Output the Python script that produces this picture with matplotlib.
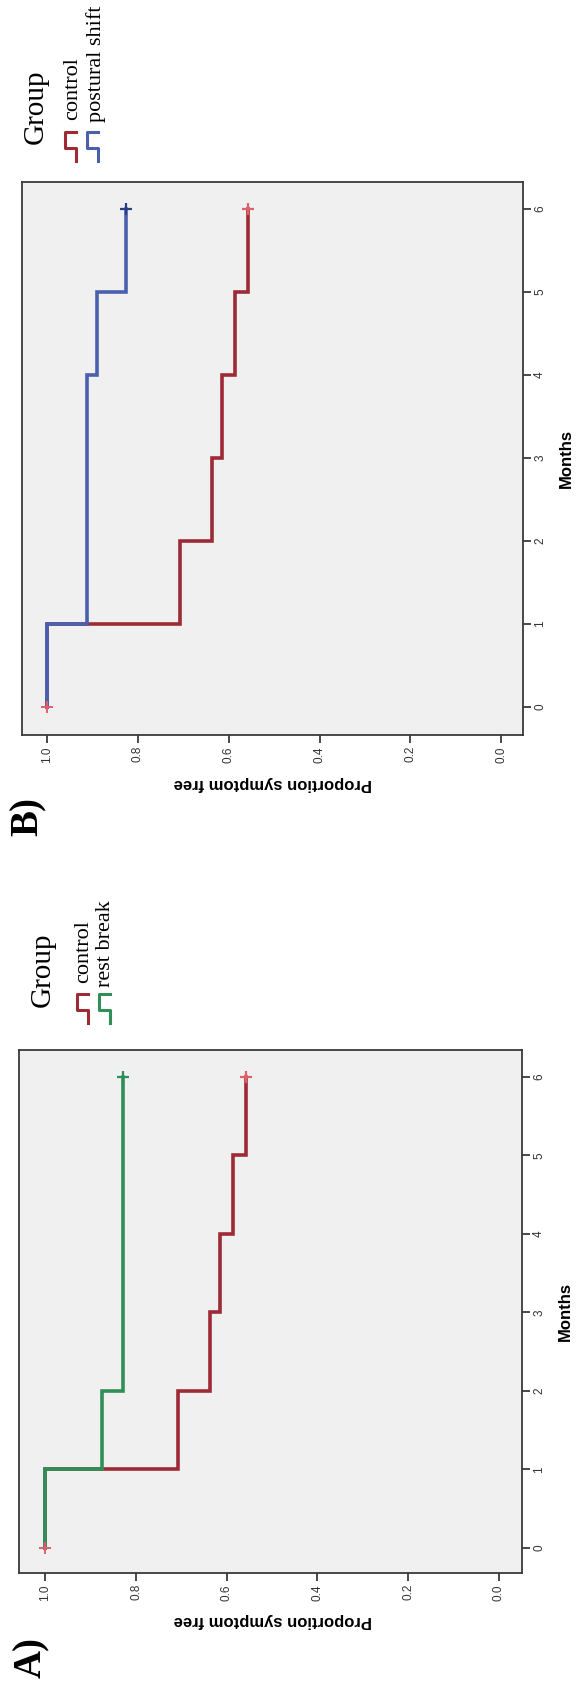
import numpy as np
import matplotlib
matplotlib.use("Agg")
import matplotlib.pyplot as plt
from matplotlib.lines import Line2D

# Kaplan-Meier curves, figure turned a quarter turn (months run upward)
months = [0, 1, 2, 3, 4, 5, 6]
prop_ticks = [0.0, 0.2, 0.4, 0.6, 0.8, 1.0]
prop_labels = ["0.0", "0.2", "0.4", "0.6", "0.8", "1.0"]

# proportion symptom free during each month interval [t, t+1)
control = [1.0, 0.707, 0.636, 0.615, 0.587, 0.557]
rest_break = [1.0, 0.874, 0.829, 0.829, 0.829, 0.829]
postural_shift = [1.0, 0.912, 0.912, 0.912, 0.890, 0.825]

RED = "#9e2a35"
RED_LIGHT = "#e0606a"
GREEN = "#2f8f57"
BLUE = "#4a60ae"
BLUE_DARK = "#2c3f86"

W, H = 580, 1692
plt.rcParams["font.family"] = ["Liberation Sans", "DejaVu Sans"]

fig = plt.figure(figsize=(W / 100, H / 100), dpi=100)


def box(left, top, right, bottom):
    return [left / W, 1 - bottom / H, (right - left) / W, (bottom - top) / H]


def fp(x, y):
    return x / W, 1 - y / H


def km_path(vals):
    ys = np.repeat(months, 2)[1:-1]
    xs = np.repeat(vals, 2)
    return xs, ys


def km_panel(rect, xlim, ylim, other, other_col, other_cens):
    ax = fig.add_axes(rect)
    ax.set_facecolor("#f0f0f0")
    for s in ax.spines.values():
        s.set_color("#3a3a3a")
        s.set_linewidth(1.3)

    xs, ys = km_path(control)
    ax.plot(xs, ys, color=RED, lw=2.6, solid_joinstyle="miter")
    xs, ys = km_path(other)
    ax.plot(xs, ys, color=other_col, lw=2.6, solid_joinstyle="miter")

    # censor marks
    ax.plot([control[0]], [months[0]], "+", color=RED_LIGHT, ms=8, mew=1.4)
    ax.plot([control[-1]], [months[-1]], "+", color=RED_LIGHT, ms=8, mew=1.6)
    ax.plot([other[-1]], [months[-1]], "+", color=other_cens, ms=8, mew=1.6)

    ax.set_xlim(*xlim)
    ax.set_ylim(*ylim)
    ax.set_xticks(prop_ticks)
    ax.set_xticklabels(prop_labels, rotation=90, fontsize=8.5, color="#333333")
    ax.set_yticks(months)
    ax.yaxis.tick_right()
    ax.set_yticklabels([str(m) for m in months], rotation=90, fontsize=8.5,
                       color="#333333", va="center")
    ax.tick_params(axis="both", direction="out", length=6, width=1.3,
                   color="#3a3a3a", pad=2)

    ax.set_xlabel("Proportion symptom free", rotation=180, fontsize=12,
                  fontweight="bold", va="center", ha="center")
    ax.yaxis.set_label_position("right")
    ax.set_ylabel("Months", rotation=90, fontsize=12, fontweight="bold",
                  va="center", ha="center")
    return ax


def legend(title_x, title_y, entries):
    fig.text(*fp(title_x, title_y), "Group", rotation=90, rotation_mode="anchor",
             ha="left", va="center", fontsize=21, family="Liberation Serif")
    for name, col, tx, ty, ix, iy in entries:
        fig.text(*fp(tx, ty), name, rotation=90, rotation_mode="anchor",
                 ha="left", va="center", fontsize=16, family="Liberation Serif")
        px = [ix + 11, ix, ix, ix + 11, ix + 11]
        py = [iy, iy, iy + 16, iy + 16, iy + 29]
        pts = [fp(a, b) for a, b in zip(px, py)]
        fig.add_artist(Line2D([p[0] for p in pts], [p[1] for p in pts],
                              color=col, lw=2.2, transform=fig.transFigure))


# panel B (top)
axB = km_panel(box(22, 182, 523, 735), (1.055, -0.048), (-0.337, 6.325),
               postural_shift, BLUE, BLUE_DARK)
axB.xaxis.set_label_coords(0.5, -0.087)
axB.yaxis.set_label_coords(1.086, 0.5)
legend(36, 144, [("control", RED, 73, 120, 65, 132),
                 ("postural shift", BLUE, 96, 122, 87, 132)])
fig.text(*fp(28, 816), "B)", rotation=90, ha="center", va="center",
         fontsize=28, fontweight="bold", family="Liberation Serif")

# panel A (bottom)
axA = km_panel(box(19, 1050, 522, 1573), (1.058, -0.051), (-0.32, 6.34),
               rest_break, GREEN, GREEN)
axA.xaxis.set_label_coords(0.505, -0.09)
axA.yaxis.set_label_coords(1.087, 0.5)
legend(43, 1007, [("control", RED, 84, 983, 77, 994),
                  ("rest break", GREEN, 106, 987, 99, 994)])
fig.text(*fp(32, 1657), "A)", rotation=90, ha="center", va="center",
         fontsize=28, fontweight="bold", family="Liberation Serif")

fig.savefig("out.png", dpi=100)
